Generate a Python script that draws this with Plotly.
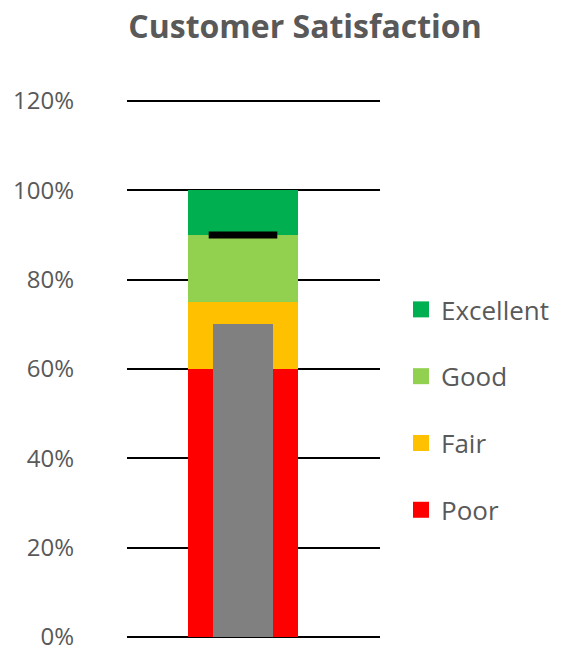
import plotly.graph_objects as go

# Data
bands = ["Poor", "Fair", "Good", "Excellent"]
band_upper = [0.60, 0.75, 0.90, 1.00]
band_colors = ["#FF0000", "#FFC000", "#92D050", "#00B050"]
actual_value = 0.70
target_value = 0.90
y_ticks = [0, 0.2, 0.4, 0.6, 0.8, 1.0, 1.2]

TEXT = "#595959"
FONT = "Open Sans"

fig = go.Figure()

# Qualitative bands (stacked via base)
lower = 0.0
for name, upper, col in zip(bands, band_upper, band_colors):
    fig.add_trace(go.Bar(
        x=[0], y=[upper - lower], base=[lower], width=0.435,
        marker=dict(color=col, line=dict(width=0)),
        name=name, showlegend=False, hoverinfo="skip",
    ))
    lower = upper

# Actual value bar
fig.add_trace(go.Bar(
    x=[0], y=[actual_value], width=0.241,
    marker=dict(color="#808080", line=dict(width=0)),
    showlegend=False, name="Actual",
))

# Target marker
fig.add_trace(go.Scatter(
    x=[0], y=[target_value], mode="markers",
    marker=dict(symbol="line-ew", size=49, color="black",
                line=dict(color="black", width=7)),
    showlegend=False, name="Target",
))

# Legend entries (Excellent on top)
for rank, (name, col) in enumerate(zip(bands, band_colors)):
    fig.add_trace(go.Scatter(
        x=[None], y=[None], mode="markers",
        marker=dict(symbol="square", size=16, color=col),
        name=name, legendgroup=name, legendrank=1000 - rank,
    ))

fig.update_layout(
    width=564, height=652,
    margin=dict(l=127, r=184, t=98, b=12, autoexpand=False),
    paper_bgcolor="white", plot_bgcolor="white",
    barmode="overlay", bargap=0,
    title=dict(text="<b>Customer Satisfaction</b>", x=305 / 564, xanchor="center",
               y=0.959, yanchor="middle",
               font=dict(family=FONT, size=32, color=TEXT)),
    font=dict(family=FONT, color=TEXT),
    showlegend=True,
    legend=dict(x=1.083, xanchor="left", y=0.4244, yanchor="middle",
                font=dict(family=FONT, size=26, color=TEXT),
                tracegroupgap=30, itemsizing="trace",
                bgcolor="rgba(0,0,0,0)"),
    xaxis=dict(range=[-0.4585, 0.5415], visible=False, fixedrange=True),
    yaxis=dict(range=[-0.0067, 1.2067], tickvals=y_ticks, tickformat=".0%",
               showgrid=True, gridcolor="black", gridwidth=1.5,
               zeroline=False, showline=False, ticks="",
               automargin=False, ticklabelstandoff=52,
               ticklabeloverflow="allow",
               tickfont=dict(family=FONT, size=24, color=TEXT)),
)

fig.write_html("out.html")
